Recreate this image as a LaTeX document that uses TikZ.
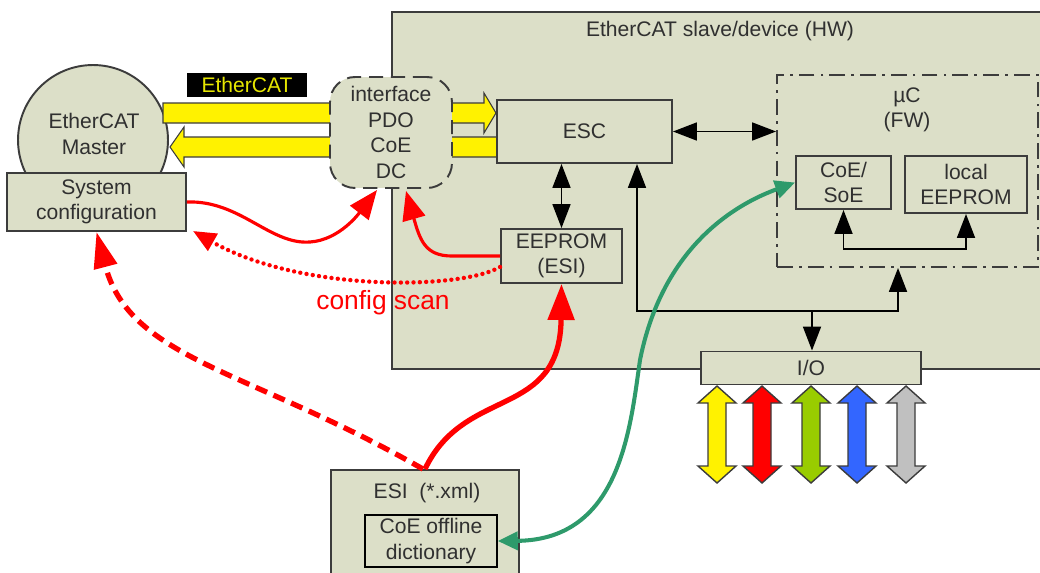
\documentclass[tikz,border=0pt]{standalone}
\usepackage{fontspec}
\setmainfont{Liberation Sans}
\definecolor{boxfill}{HTML}{DCDFC8}
\definecolor{linegray}{HTML}{3C3C3C}
\definecolor{textgray}{HTML}{303030}
\definecolor{ecatgreen}{HTML}{2E9A6B}
\definecolor{lblyellow}{HTML}{E6E600}
\definecolor{iogreen}{HTML}{99CC00}
\definecolor{ioblue}{HTML}{3366FF}
\definecolor{iogray}{HTML}{C0C0C0}
\usetikzlibrary{arrows.meta,positioning,calc}

\begin{document}
\begin{tikzpicture}[x=0.02cm, y=-0.02cm, font=\fontsize{12}{14.5}\selectfont, text=textgray,
    box/.style={rectangle, draw=linegray, fill=boxfill, line width=1.1pt, inner sep=0pt, align=center},
    blk/.style={draw=black, line width=1pt, {Triangle[length=0.48cm,width=0.36cm]}-{Triangle[length=0.48cm,width=0.36cm]}},
    blkone/.style={draw=black, line width=1pt, -{Triangle[length=0.48cm,width=0.36cm]}},
    ybar/.style={draw=linegray, fill=yellow, line width=0.6pt},
    redthin/.style={draw=red, line width=1.8pt, -{Triangle[length=0.58cm,width=0.46cm]}},
    redthick/.style={draw=red, line width=3pt, -{Triangle[length=0.72cm,width=0.52cm]}},
    reddash/.style={draw=red, line width=3pt, dash pattern=on 7pt off 4pt, -{Triangle[length=0.72cm,width=0.46cm]}},
    reddot/.style={draw=red, line width=2.5pt, line cap=round, dash pattern=on 0pt off 3.6pt, -{Triangle[length=0.46cm,width=0.38cm]}},
    grn/.style={draw=ecatgreen, line width=2.3pt, {Triangle[length=0.4cm,width=0.36cm]}-{Triangle[length=0.4cm,width=0.36cm]}}]
    \useasboundingbox (0,0) rectangle (1040,572);

    % Slave device (HW)
    \node[box, anchor=north west, minimum width=13.5cm, minimum height=7.14cm] (hw) at (391,11) {};
    \node (hwtitle) at (720,31) {EtherCAT slave/device (HW)};

    % Master
    \node[circle, draw=linegray, fill=boxfill, line width=1.1pt, minimum size=3cm] (master) at (93,140) {};
    \node[align=center] (mastertxt) at (94,134) {EtherCAT\\Master};

    % EtherCAT frames
    \node[fill=black, text=lblyellow, minimum width=2.4cm, minimum height=0.48cm, inner sep=0pt] (ecatlbl) at (247,85) {EtherCAT};
    \draw[ybar] (163,103) -- (484,103) -- (484,93) -- (496,113) -- (484,133) -- (484,123) -- (163,123) -- cycle;
    \draw[ybar] (497,137) -- (184,137) -- (184,127) -- (170,147) -- (184,167) -- (184,157) -- (497,157) -- cycle;

    \node[box, minimum width=3.58cm, minimum height=1.16cm] (sysconf) at (96.5,202) {System\\configuration};

    % Interface
    \node[box, dash pattern=on 8pt off 4.5pt, rounded corners=0.5cm, minimum width=2.44cm, minimum height=2.22cm] (iface) at (391,132.5) {interface\\PDO\\CoE\\DC};

    % ESC and EEPROM
    \node[box, minimum width=3.5cm, minimum height=1.26cm] (esc) at (584.5,131.5) {ESC};
    \node[box, minimum width=2.42cm, minimum height=1.08cm] (eeprom) at (561.5,256) {EEPROM\\(ESI)};

    % uC (FW)
    \node[rectangle, draw=linegray, line width=1.1pt, dash pattern=on 9pt off 3.5pt on 1.5pt off 3.5pt, minimum width=5.22cm, minimum height=3.84cm] (uc) at (907.5,171) {};
    \node[align=center] (uctxt) at (907,110) {µC\\(FW)};
    \node[box, minimum width=1.9cm, minimum height=1.06cm] (coe) at (843.5,182.5) {CoE/\\SoE};
    \node[box, minimum width=2.44cm, minimum height=1.14cm] (local) at (966,184.5) {local\\EEPROM};

    % I/O
    \node[box, minimum width=4.4cm, minimum height=0.66cm] (io) at (811,368) {I/O};
    \foreach \x/\col in {717/yellow, 762/red, 811/iogreen, 857/ioblue, 906/iogray}
      \draw[draw=linegray, fill=\col, line width=0.8pt] (\x,386) -- (\x+19,403) -- (\x+9,403) -- (\x+9,466) -- (\x+19,466) -- (\x,483) -- (\x-19,466) -- (\x-9,466) -- (\x-9,403) -- (\x-19,403) -- cycle;

    % ESI file
    \node[box, minimum width=3.76cm, minimum height=2.6cm] (esi) at (425,535) {};
    \node (esitxt) at (427,493) {ESI~~(*.xml)};
    \node[box, draw=black, line width=0.9pt, minimum width=2.64cm, minimum height=1.04cm] (dict) at (431,541) {CoE offline\\dictionary};

    % black connections
    \coordinate (busl) at (637,311);
    \coordinate (busr) at (898,311);
    \coordinate (busm) at (812,311);
    \coordinate (lnk) at (0,249);
    \draw[blk] (esc.east) -- (esc.east -| uc.west);
    \draw[blk] (eeprom.north) -- (eeprom.north |- esc.south);
    \draw[blk] (busl |- esc.south) -- (busl) -- (busr) -- (busr |- uc.south);
    \draw[blkone] (busm) -- (busm |- io.north);
    \draw[blk] (coe.south) -- (coe.south |- lnk) -- (local.south |- lnk) -- (local.south);

    % red connections
    \draw[redthin] (sysconf.east) .. controls (240,200) and (270,245) .. (310,242) .. controls (340,240) and (360,212) .. ($(iface.south)+(-14,1)$);
    \draw[redthin] (eeprom.west) -- (452,256) .. controls (425,256) and (420,240) .. ($(iface.south)+(15,2)$);
    \draw[reddot] ($(eeprom.west)+(0,11)$) .. controls (460,290) and (300,292) .. ($(sysconf.south east)+(6,-1)$);
    \draw[reddash] ($(esi.north)+(-2,0)$) .. controls (250,370) and (130,360) .. (sysconf.south);
    \draw[redthick] (esi.north) .. controls (465,385) and (560,420) .. (eeprom.south);
    \node[text=red, font=\fontsize{15}{18}\selectfont] (scan) at (383,303) {config scan};

    % green connection
    \draw[grn] (dict.east) .. controls (620,540) and (630,430) .. (640,360) .. controls (660,260) and (720,210) .. (coe.west);
\end{tikzpicture}
\end{document}
